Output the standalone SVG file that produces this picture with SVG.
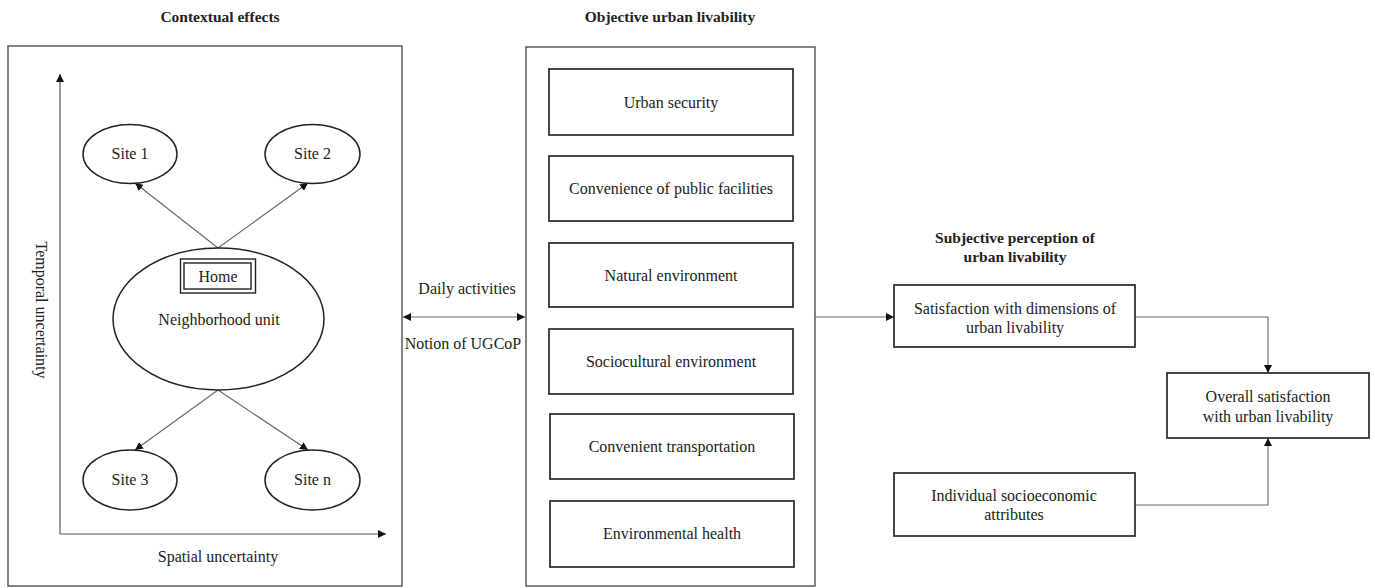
<svg xmlns="http://www.w3.org/2000/svg" width="1375" height="588" viewBox="0 0 1375 588">
<style>
text{font-family:"Liberation Serif","Times New Roman",serif;font-size:16px;fill:#222;text-anchor:middle}
.title{font-weight:bold;font-size:15.5px}
.frame{fill:none;stroke:#444;stroke-width:1.3}
.box{fill:#fff;stroke:#333;stroke-width:1.8}
.ell{fill:#fff;stroke:#222;stroke-width:1.5}
.conn{fill:none;stroke:#666;stroke-width:1.1}
.axis{fill:none;stroke:#555;stroke-width:1.2}
</style>
<defs>
<marker id="ah" viewBox="0 0 10 10" refX="10" refY="5" markerWidth="8" markerHeight="8" markerUnits="userSpaceOnUse" orient="auto-start-reverse">
<path d="M0,0 L10,5 L0,10 z" fill="#111"/>
</marker>
</defs>
<rect width="1375" height="588" fill="#fff"/>

<g id="titles">
<text class="title" x="220" y="22">Contextual effects</text>
<text class="title" x="670" y="22">Objective urban livability</text>
<text class="title" x="1015" y="243">Subjective perception of</text>
<text class="title" x="1015" y="262">urban livability</text>
</g>

<g id="contextual-frame">
<rect class="frame" x="8" y="46" width="394" height="540"/>
<text transform="translate(41,310) rotate(90)" x="0" y="5">Temporal uncertainty</text>
<text x="218" y="562">Spatial uncertainty</text>
</g>

<g id="objective-frame">
<rect class="frame" x="526" y="47" width="289" height="539"/>
</g>

<g id="connectors">
<path class="axis" d="M60,534 L60,74" marker-end="url(#ah)"/>
<path class="axis" d="M60,534 L386,534" marker-end="url(#ah)"/>
<path class="conn" d="M218,248 L135,183" marker-end="url(#ah)"/>
<path class="conn" d="M218,248 L308,183" marker-end="url(#ah)"/>
<path class="conn" d="M218,390 L135,450" marker-end="url(#ah)"/>
<path class="conn" d="M218,390 L308,450" marker-end="url(#ah)"/>
<path class="conn" d="M403,317 L525,317" marker-start="url(#ah)" marker-end="url(#ah)"/>
<path class="conn" d="M815,317 L894,317" marker-end="url(#ah)"/>
<path class="conn" d="M1135,317 L1268,317 L1268,373" marker-end="url(#ah)"/>
<path class="conn" d="M1135,505 L1268,505 L1268,438" marker-end="url(#ah)"/>
<text x="467" y="294">Daily activities</text>
<text x="463" y="349">Notion of UGCoP</text>
</g>

<g id="site1"><ellipse class="ell" cx="130" cy="154" rx="47" ry="29.5"/><text x="130" y="159">Site 1</text></g>
<g id="site2"><ellipse class="ell" cx="312.5" cy="154" rx="47.5" ry="29.5"/><text x="312.5" y="159">Site 2</text></g>
<g id="site3"><ellipse class="ell" cx="130" cy="480" rx="47" ry="30"/><text x="130" y="485">Site 3</text></g>
<g id="siten"><ellipse class="ell" cx="312.5" cy="480" rx="47.5" ry="30"/><text x="312.5" y="485">Site n</text></g>

<g id="neighborhood">
<ellipse class="ell" cx="218.5" cy="319" rx="105.5" ry="71"/>
<text x="219" y="325">Neighborhood unit</text>
</g>
<g id="home">
<rect x="180.5" y="259" width="75" height="34" fill="#fff" stroke="#222" stroke-width="1.4"/>
<rect x="184" y="263" width="67" height="26" fill="none" stroke="#222" stroke-width="1.4"/>
<text x="218" y="282">Home</text>
</g>

<g id="urban-security"><rect class="box" x="549" y="69" width="244" height="66"/><text x="671" y="108">Urban security</text></g>
<g id="public-facilities"><rect class="box" x="549" y="156" width="244" height="65"/><text x="671" y="194">Convenience of public facilities</text></g>
<g id="natural-environment"><rect class="box" x="549" y="243" width="244" height="64"/><text x="671" y="281">Natural environment</text></g>
<g id="sociocultural-environment"><rect class="box" x="549" y="329" width="244" height="65"/><text x="671" y="367">Sociocultural environment</text></g>
<g id="convenient-transportation"><rect class="box" x="550" y="414" width="244" height="65"/><text x="672" y="452">Convenient transportation</text></g>
<g id="environmental-health"><rect class="box" x="550" y="501" width="244" height="66"/><text x="672" y="539">Environmental health</text></g>

<g id="satisfaction-dimensions"><rect class="box" x="894" y="285" width="241" height="62"/><text x="1015" y="314">Satisfaction with dimensions of</text><text x="1015" y="333">urban livability</text></g>
<g id="overall-satisfaction"><rect class="box" x="1167" y="373" width="202" height="65"/><text x="1268" y="402">Overall satisfaction</text><text x="1268" y="422">with urban livability</text></g>
<g id="socioeconomic"><rect class="box" x="894" y="473" width="241" height="63"/><text x="1014" y="501">Individual socioeconomic</text><text x="1014" y="520">attributes</text></g>
</svg>
